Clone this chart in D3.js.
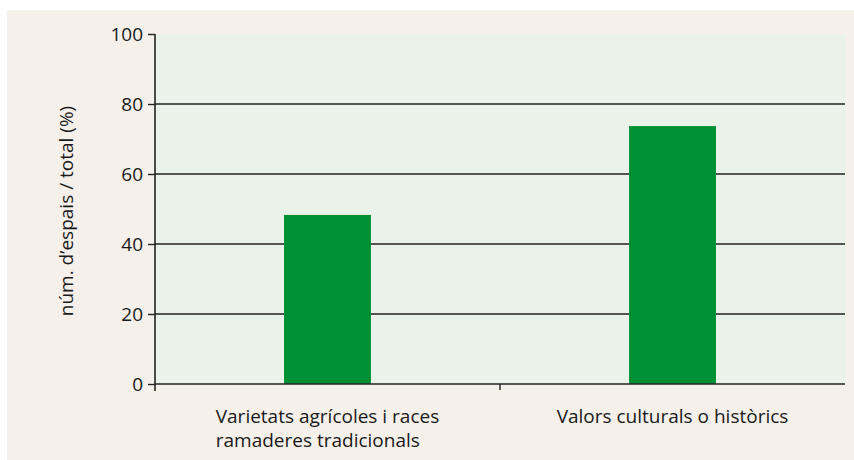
<!doctype html>
<html>
<head>
<script src="https://d3js.org/d3.v7.min.js"></script>
<style>
  body { margin: 0; background: #fff; }
  text { font-family: "Open Sans", "Noto Sans", sans-serif; fill: #1a1a1a; }
</style>
</head>
<body>
<svg id="chart" width="854" height="460"></svg>
<script>
// data
const categories = ["Varietats agrícoles i races\nramaderes tradicionals", "Valors culturals o històrics"];
const values = [48.3, 73.7];
const yTicks = [0, 20, 40, 60, 80, 100];
const yTitle = "núm. d’espais / total (%)";

const svg = d3.select('#chart');
const plotL = 155, plotR = 845, plotT = 34, plotB = 384;

// beige panel
svg.append('rect')
  .attr('x', 7).attr('y', 10).attr('width', 847).attr('height', 450)
  .attr('fill', '#f5f0ea');

// plot background
svg.append('rect')
  .attr('x', plotL).attr('y', plotT).attr('width', plotR - plotL).attr('height', plotB - plotT)
  .attr('fill', '#e9f3ea');

const y = d3.scaleLinear().domain([0, 100]).range([plotB, plotT]);
const x = d3.scaleBand().domain(categories).range([plotL, plotR]).padding(0);
const barW = x.bandwidth() * 0.252;

// gridlines
svg.append('g')
  .selectAll('line')
  .data(yTicks.filter(d => d > 0 && d < 100))
  .enter().append('line')
  .attr('x1', plotL).attr('x2', plotR)
  .attr('y1', d => y(d)).attr('y2', d => y(d))
  .attr('stroke', '#222').attr('stroke-width', 1.6);

// bars
svg.append('g')
  .selectAll('rect')
  .data(values)
  .enter().append('rect')
  .attr('x', (d, i) => x(categories[i]) + x.bandwidth() / 2 - barW / 2)
  .attr('y', d => y(d))
  .attr('width', barW)
  .attr('height', d => plotB - y(d))
  .attr('fill', '#009036');

// y axis
const yAxis = svg.append('g')
  .attr('transform', `translate(${plotL},0)`)
  .call(d3.axisLeft(y).tickValues(yTicks).tickSize(7).tickPadding(5).tickSizeOuter(0));
yAxis.attr('font-size', 19).attr('font-family', null);
yAxis.select('.domain').attr('stroke', '#222').attr('stroke-width', 1.6)
  .attr('d', `M0,${plotT}V${plotB + 7}`);
yAxis.selectAll('.tick line').attr('stroke', '#222').attr('stroke-width', 1.4);
yAxis.selectAll('.tick text').attr('fill', '#1a1a1a');

// x axis
svg.append('line')
  .attr('x1', plotL).attr('x2', plotR).attr('y1', plotB).attr('y2', plotB)
  .attr('stroke', '#222').attr('stroke-width', 1.6);
svg.append('line')
  .attr('x1', x(categories[1])).attr('x2', x(categories[1]))
  .attr('y1', plotB).attr('y2', plotB + 6)
  .attr('stroke', '#222').attr('stroke-width', 1.4);

// category labels: left-aligned block centred under each bar
categories.forEach((c, i) => {
  const lines = c.split('\n');
  const t = svg.append('text').attr('font-size', 19).attr('y', 423);
  lines.forEach((l, k) => {
    t.append('tspan').attr('x', 0).attr('dy', k === 0 ? 0 : 24).text(l);
  });
  const w = t.node().getBBox().width;
  const cx = x(c) + x.bandwidth() / 2;
  t.selectAll('tspan').attr('x', cx - w / 2);
});

// y title
svg.append('text')
  .attr('font-size', 19)
  .attr('transform', 'translate(73,211) rotate(-90)')
  .attr('text-anchor', 'middle')
  .text(yTitle);
</script>
</body>
</html>
